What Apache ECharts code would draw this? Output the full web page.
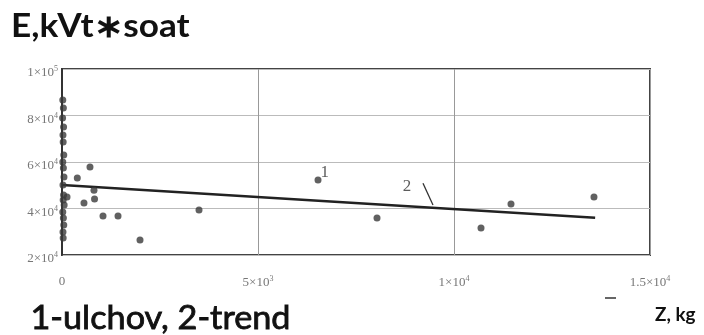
<!DOCTYPE html>
<html>
<head>
<meta charset="utf-8">
<script src="https://cdn.jsdelivr.net/npm/echarts@6/dist/echarts.min.js"></script>
<style>
html,body{margin:0;padding:0;background:#fff;}
#chart{width:704px;height:335px;}
</style>
</head>
<body>
<div id="chart"></div>
<script>
// Observed points (Z, kg ; E, kVt*soat)
const obsZ = [20, 35, 15, 40, 25, 30, 45, 20, 35, 50, 25, 40, 30, 55, 20, 35, 45, 25, 30,
              128, 390, 714, 816, 830, 561, 1046, 1429, 1990, 3495, 6531, 8036, 10689, 11454, 13571];
const obsE = [86700, 83200, 78900, 75100, 71600, 68600, 63000, 60000, 57400, 53500, 50100, 45800, 43700, 41500, 38500, 35900, 32900, 29900, 27300,
              45000, 53100, 57800, 47800, 44100, 42400, 36800, 36800, 26500, 39400, 52300, 35900, 31600, 41900, 44900];
// Trend line end points
const trendZ = [0, 13600];
const trendE = [50100, 36000];
// Axis ticks
const xTicks = [0, 5000, 10000, 15000];
const xTickLabels = ['0', '5×10{s|3}', '1×10{s|4}', '1.5×10{s|4}'];
const yTicks = [20000, 40000, 60000, 80000, 100000];
const yTickLabels = ['2×10{s|4}', '4×10{s|4}', '6×10{s|4}', '8×10{s|4}', '1×10{s|5}'];
// Annotations in data coordinates
const label1 = {text: '1', z: 6700, e: 55500};
const label2 = {text: '2', z: 8800, e: 49300};
const leader2Z = [9209, 9464];
const leader2E = [50900, 41500];

const chart = echarts.init(document.getElementById('chart'));
const supRich = {
  s: {fontSize: 8, fontFamily: 'Liberation Serif', color: '#777', verticalAlign: 'top', padding: [0, 0, 8, 0]}
};
chart.setOption({
  animation: false,
  grid: {left: 62, right: 54, top: 69, bottom: 80, show: true, borderColor: '#444', borderWidth: 2, backgroundColor: 'transparent'},
  xAxis: {
    type: 'value', min: 0, max: 15000, interval: 5000,
    axisLine: {show: false}, axisTick: {show: false},
    splitLine: {show: true, lineStyle: {color: '#999', width: 1}},
    axisLabel: {
      margin: 20, color: '#777', fontFamily: 'Liberation Serif', fontSize: 13,
      formatter: v => xTickLabels[xTicks.indexOf(v)] || '',
      rich: supRich
    }
  },
  yAxis: {
    type: 'value', min: 20000, max: 100000, interval: 20000,
    axisLine: {show: true, lineStyle: {color: '#333', width: 2}}, axisTick: {show: false},
    splitLine: {show: true, lineStyle: {color: '#bbb', width: 1}},
    axisLabel: {
      margin: 4, color: '#777', fontFamily: 'Liberation Serif', fontSize: 13,
      padding: [8, 0, 0, 0],
      formatter: v => yTickLabels[yTicks.indexOf(v)] || '',
      rich: supRich
    }
  },
  series: [
    {
      type: 'line', data: trendZ.map((z, i) => [z, trendE[i]]),
      symbol: 'none', lineStyle: {color: '#222', width: 2.5}, z: 3
    },
    {
      type: 'scatter', data: obsZ.map((z, i) => [z, obsE[i]]),
      symbolSize: 7, itemStyle: {color: '#3a3a3a'}, z: 4
    },
    {
      type: 'line', data: leader2Z.map((z, i) => [z, leader2E[i]]),
      symbol: 'none', lineStyle: {color: '#333', width: 1.3}, z: 3
    },
    {
      type: 'scatter', symbolSize: 0,
      data: [[label1.z, label1.e, label1.text], [label2.z, label2.e, label2.text]],
      label: {show: true, position: 'inside', formatter: p => p.data[2],
        fontFamily: 'Liberation Serif', fontSize: 17, color: '#333'}
    }
  ],
  graphic: [
    {type: 'text', left: 11, top: 11, scaleX: 1.1, style: {text: 'E,kVt∗soat', font: 'bold 32px Lato', fill: '#111'}},
    {type: 'text', left: 30, top: 302, scaleX: 1.07, style: {text: '1-ulchov, 2-trend', font: '32px Lato', fill: '#111', stroke: '#111', lineWidth: 0.8}},
    {type: 'text', left: 655, top: 306, scaleX: 1.05, style: {text: 'Z, kg', font: 'bold 18px Lato', fill: '#111'}},
    {type: 'line', shape: {x1: 605, y1: 298, x2: 616, y2: 298}, style: {stroke: '#333', lineWidth: 1.5}}
  ]
});
</script>
</body>
</html>
